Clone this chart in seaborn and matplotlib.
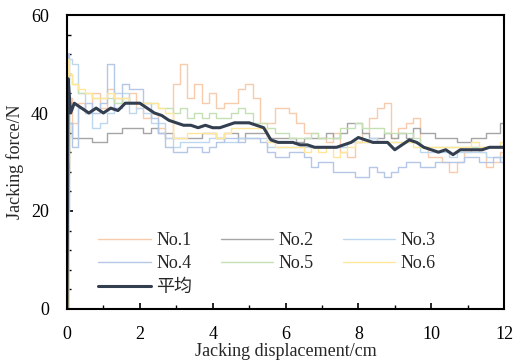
import numpy as np
import pandas as pd
import matplotlib
matplotlib.use("Agg")
import matplotlib.pyplot as plt
from matplotlib.ticker import MultipleLocator
import seaborn as sns

# Displacement sampling grid (cm): start-up points, then every 0.2 cm
x_start = [0.0, 0.03, 0.1]
x_grid = list(np.round(np.arange(0.2, 12.001, 0.2), 1))
displacement = x_start + x_grid

# Jacking force (N) for each test run
no1 = [0, 28, 43,
       38, 42, 40, 44, 41, 45, 43, 42, 44, 41,
       39, 40, 37, 35, 46, 50, 43, 46, 42, 44,
       41, 42, 42, 45, 46, 43, 38, 38, 41, 41,
       40, 38, 36, 36, 35, 34, 36, 32, 31, 34,
       36, 39, 41, 42, 35, 37, 38, 39, 33, 31,
       31, 30, 28, 30, 32, 33, 32, 29, 30, 32]
no2 = [0, 20, 38,
       35, 35, 35, 34, 34, 36, 36, 37, 37, 37,
       36, 37, 36, 36, 35, 35, 35, 35, 36, 36,
       35, 36, 36, 35, 36, 36, 36, 35, 35, 35,
       35, 34, 35, 35, 35, 36, 35, 36, 38, 38,
       36, 35, 35, 36, 35, 36, 35, 37, 36, 36,
       35, 35, 35, 34, 34, 35, 35, 36, 36, 38]
no3 = [0, 50, 51,
       50, 44, 40, 37, 38, 40, 44, 44, 40, 41,
       40, 38, 38, 35, 33, 34, 34, 34, 34, 35,
       35, 34, 34, 35, 35, 35, 35, 33, 33, 33,
       33, 33, 33, 33, 33, 33, 33, 33, 34, 34,
       34, 35, 34, 34, 34, 34, 34, 34, 32, 32,
       32, 32, 31, 32, 32, 32, 32, 31, 31, 31]
no4 = [0, 52, 38,
       33, 41, 42, 40, 42, 50, 41, 46, 45, 45,
       42, 39, 36, 33, 32, 32, 33, 33, 32, 33,
       34, 35, 35, 34, 35, 35, 34, 32, 31, 31,
       32, 32, 31, 29, 30, 30, 28, 28, 28, 27,
       27, 29, 28, 27, 28, 29, 30, 30, 29, 29,
       30, 30, 30, 30, 31, 31, 30, 30, 31, 30]
no5 = [0, 30, 48,
       46, 44, 44, 43, 43, 43, 42, 43, 42, 42,
       42, 42, 41, 41, 40, 41, 39, 40, 39, 40,
       39, 39, 40, 41, 40, 38, 38, 37, 36, 36,
       35, 35, 35, 36, 35, 35, 35, 37, 37, 38,
       37, 37, 37, 36, 36, 36, 36, 35, 33, 33,
       33, 33, 33, 33, 33, 33, 33, 33, 33, 33]
no6 = [0, 51, 48,
       46, 45, 44, 43, 43, 44, 43, 43, 42, 42,
       42, 42, 41, 40, 35, 35, 36, 36, 36, 36,
       35, 36, 37, 37, 37, 37, 37, 34, 33, 33,
       33, 33, 32, 33, 32, 33, 31, 32, 33, 34,
       34, 34, 34, 34, 34, 34, 34, 33, 33, 33,
       33, 33, 33, 33, 33, 34, 33, 33, 33, 34]
average = [0, 47, 40,
           42, 41, 40, 41, 40, 41, 40.5, 42, 42, 42,
           41, 40, 39.5, 38.5, 38, 37.5, 37.5, 37, 37.5, 37,
           37, 37.5, 38, 38, 38, 37.5, 37, 34.5, 34, 34,
           34, 33.5, 33.5, 33, 33, 33, 33, 33.5, 34, 35,
           34.5, 34, 34, 34, 32.5, 33.5, 34.5, 34, 33, 32.5,
           32, 32.5, 31.5, 32.5, 32.5, 32.5, 32.5, 33, 33, 33]

series_names = ["No.1", "No.2", "No.3", "No.4", "No.5", "No.6"]
series_values = [no1, no2, no3, no4, no5, no6]
series_colors = ["#F8CBAD", "#A5A5A5", "#BDD7EE", "#B4C7E7", "#C5E0B4", "#FFE699"]
average_name = "平均"
average_color = "#333F50"

sns.set_theme(style="white")
plt.rcParams["font.family"] = ["Liberation Serif", "Noto Sans CJK SC"]
plt.rcParams["axes.unicode_minus"] = False

fig = plt.figure(figsize=(5.13, 3.6), dpi=100)
ax = fig.add_axes([0.1306, 0.1417, 0.8519, 0.8166])

for name, vals, col in zip(series_names, series_values, series_colors):
    df = pd.DataFrame({"x": displacement, "y": vals})
    sns.lineplot(data=df, x="x", y="y", ax=ax, color=col, linewidth=1.0,
                 drawstyle="steps-mid", label=name, estimator=None, sort=False)

df_avg = pd.DataFrame({"x": displacement, "y": average})
sns.lineplot(data=df_avg, x="x", y="y", ax=ax, color=average_color, linewidth=2.2,
             label=average_name, estimator=None, sort=False)

ax.set_xlim(0, 12)
ax.set_ylim(0, 60)
ax.xaxis.set_major_locator(MultipleLocator(2))
ax.xaxis.set_minor_locator(MultipleLocator(1))
ax.yaxis.set_major_locator(MultipleLocator(20))
ax.yaxis.set_minor_locator(MultipleLocator(4))
ax.tick_params(axis="both", which="both", direction="in", labelsize=13,
               colors="black", top=False, right=False, bottom=True, left=True)
ax.tick_params(axis="x", which="major", length=4, width=1.2, pad=12)
ax.tick_params(axis="y", which="major", length=4, width=1.2, pad=13)
ax.tick_params(which="minor", length=3, width=1.0)
for sp in ax.spines.values():
    sp.set_color("black")
    sp.set_linewidth(1.5)

ax.set_xlabel("Jacking displacement/cm", fontsize=13, labelpad=0)
ax.set_ylabel("Jacking force/N", fontsize=13, labelpad=5)

# Row-major legend layout: No.1 No.2 No.3 / No.4 No.5 No.6 / 平均
handles, labels = ax.get_legend_handles_labels()
lookup = dict(zip(labels, handles))
order = ["No.1", "No.4", "平均", "No.2", "No.5", "No.3", "No.6"]
ax.legend([lookup[k] for k in order], order, ncol=3, frameon=False, fontsize=13,
          loc="lower left", bbox_to_anchor=(0.055, 0.02),
          handlelength=2.9, columnspacing=1.6, labelspacing=0.36,
          handletextpad=0.3, borderaxespad=0)

fig.savefig("out.png", dpi=100)
